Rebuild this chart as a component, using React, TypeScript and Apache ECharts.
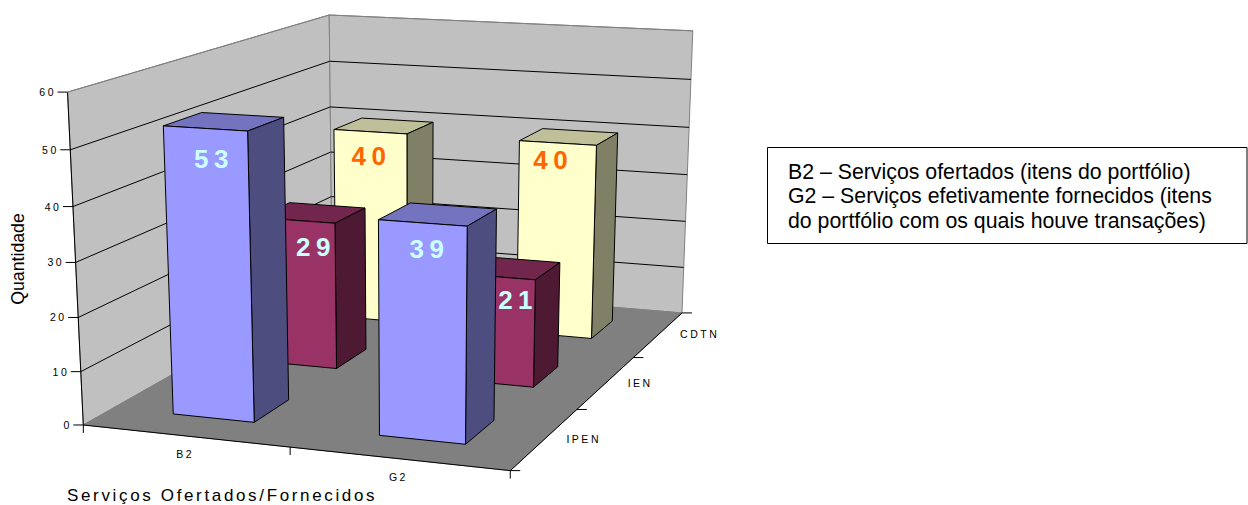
import React, { useEffect, useRef } from "react";
import * as echarts from "echarts";

// Categories along the front edge, series along the depth axis (front to back).
const groups = ["B2", "G2"];
const depthNames = ["IPEN", "IEN", "CDTN"];
const ipenValues = [53, 39];
const ienValues = [29, 21];
const cdtnValues = [40, 40];
const valueTicks = [0, 10, 20, 30, 40, 50, 60];
const axisTitleX = "Serviços Ofertados/Fornecidos";
const axisTitleY = "Quantidade";
const noteLines = [
  "B2 – Serviços ofertados (itens do portfólio)",
  "G2 – Serviços efetivamente fornecidos (itens",
  "do portfólio com os quais houve transações)",
];

const FONT = '"Liberation Sans", Arial, sans-serif';

type Pt = [number, number];

// Plain Gaussian elimination for the camera fit below.
function solve(a: number[][], b: number[]): number[] {
  const n = b.length;
  const m = a.map((r, i) => [...r, b[i]]);
  for (let i = 0; i < n; i++) {
    let p = i;
    for (let k = i + 1; k < n; k++) if (Math.abs(m[k][i]) > Math.abs(m[p][i])) p = k;
    [m[i], m[p]] = [m[p], m[i]];
    for (let k = i + 1; k < n; k++) {
      const f = m[k][i] / m[i][i];
      for (let j = i; j <= n; j++) m[k][j] -= f * m[i][j];
    }
  }
  const x = new Array(n).fill(0);
  for (let i = n - 1; i >= 0; i--) {
    let s = m[i][n];
    for (let j = i + 1; j < n; j++) s -= m[i][j] * x[j];
    x[i] = s / m[i][i];
  }
  return x;
}

// Camera anchors: box position (u along groups, w along depth, t up) -> screen point, with a weight.
const anchors: [number, number, number, number, number, number][] = [
  [0, 0, 0, 83, 425, 1],
  [1, 0, 0, 510, 470, 1],
  [1, 1, 0, 682, 313, 1],
  [0, 1, 0, 335, 283, 0.3],
  [0, 0, 1, 67.5, 92, 1],
  [0, 1, 1, 329, 15, 1],
  [1, 1, 1, 693, 31, 1],
  [1, 1 / 3, 0, 577, 410, 1],
  [1, 2 / 3, 0, 634, 358, 1],
  [0.5, 0, 0, 290, 447, 1],
  [0, 0, 0.5, 76, 262.7, 1],
  [1, 1, 5 / 6, 691, 79.3, 1],
  [1, 1, 1 / 6, 683, 267, 1],
];

// Least-squares fit of a 3x4 projection matrix with its last entry fixed to 1.
function buildCamera() {
  const rows: number[][] = [];
  const rhs: number[] = [];
  for (const [u, w, t, x, y, k] of anchors) {
    rows.push([u, w, t, 1, 0, 0, 0, 0, -x * u, -x * w, -x * t].map((v) => v * k));
    rhs.push(x * k);
    rows.push([0, 0, 0, 0, u, w, t, 1, -y * u, -y * w, -y * t].map((v) => v * k));
    rhs.push(y * k);
  }
  const idx = Array.from({ length: 11 }, (_, i) => i);
  const N = idx.map((i) => idx.map((j) => rows.reduce((s, r) => s + r[i] * r[j], 0)));
  const R = idx.map((i) => rows.reduce((s, r, n) => s + r[i] * rhs[n], 0));
  const m = solve(N, R);
  return (u: number, w: number, t: number): Pt => {
    const d = m[8] * u + m[9] * w + m[10] * t + 1;
    return [
      (m[0] * u + m[1] * w + m[2] * t + m[3]) / d,
      (m[4] * u + m[5] * w + m[6] * t + m[7]) / d,
    ];
  };
}
const project = buildCamera();

// Reads a value through the hidden cartesian axes: band centre and height, both 0..1.
function toUnit(api: any, params: any, cat: number, value: number) {
  const rect = params.coordSys;
  const c = api.coord([cat, value]);
  return { u: (c[0] - rect.x) / rect.width, t: (rect.y + rect.height - c[1]) / rect.height };
}

const wallFill = "#C0C0C0";
const floorFill = "#808080";
const edge = "#000000";
const wallEdge = "#808080";
const TICK_FONT = 10.5;

const poly = (points: Pt[], fill: string, stroke: string, lineWidth = 1) => ({
  type: "polygon",
  shape: { points },
  style: { fill, stroke, lineWidth, lineJoin: "round" },
});
const seg = (a: Pt, b: Pt, stroke: string, lineWidth = 1) => ({
  type: "line",
  shape: { x1: a[0], y1: a[1], x2: b[0], y2: b[1] },
  style: { stroke, lineWidth },
});
const label = (text: string, x: number, y: number, align: string) => ({
  type: "text",
  style: { text, x, y, align, verticalAlign: "middle", fontSize: TICK_FONT, fontFamily: FONT, fill: "#000000" },
});

// Walls, floor, box edges, category ticks and category labels.
function renderBox() {
  const bands = groups.length;
  const depthBands = depthNames.length;
  const xTicks = Array.from({ length: bands + 1 }, (_, i) => project(i / bands, 0, 0));
  const zTicks = Array.from({ length: depthBands + 1 }, (_, i) => project(1, i / depthBands, 0));
  return {
    type: "group",
    children: [
      poly([project(0, 0, 0), project(0, 1, 0), project(0, 1, 1), project(0, 0, 1)], wallFill, wallEdge),
      poly([project(0, 1, 0), project(1, 1, 0), project(1, 1, 1), project(0, 1, 1)], wallFill, wallEdge),
      poly([project(0, 0, 0), project(1, 0, 0), project(1, 1, 0), project(0, 1, 0)], floorFill, floorFill),
      seg(project(0, 0, 0), project(0, 0, 1), edge),
      seg(project(0, 0, 0), project(1, 0, 0), edge),
      seg(project(1, 0, 0), project(1, 1, 0), edge),
      ...xTicks.map((p) => seg(p, [p[0], p[1] + 8], edge)),
      ...zTicks.map((p) => seg(p, [p[0] + 10, p[1]], edge)),
      ...groups.map((g, i) => {
        const p = project((i + 0.5) / bands, 0, 0);
        return label(g, p[0], p[1] + 18, "center");
      }),
      ...depthNames.map((d, i) => {
        const p = project(1, (i + 0.5) / depthBands, 0);
        return label(d, p[0] + 21.5, p[1], "left");
      }),
    ],
  };
}

// One gridline, tick and tick label per value-axis tick.
function renderGrid(params: any, api: any) {
  const { t } = toUnit(api, params, 0, api.value(1));
  const a = project(0, 0, t);
  const b = project(0, 1, t);
  const c = project(1, 1, t);
  const value = valueTicks[params.dataIndex];
  const children: any[] = [seg([a[0] - 10, a[1]], a, edge)];
  if (value > 0) {
    const stroke = value === 60 ? wallEdge : edge;
    children.push(seg(a, b, stroke), seg(b, c, stroke));
  }
  children.push(label(String(value), a[0] - 11.5, a[1], "right"));
  return { type: "group", children };
}

const barWidth = 0.2;
const barDepth = 0.133;

const bandCentre = (depthIndex: number) => (depthIndex + 0.5) / depthNames.length;

// A box-shaped column: top, right side, then front face.
function barRenderer(depthIndex: number, front: string, top: string, side: string) {
  return (params: any, api: any) => {
    const { u, t } = toUnit(api, params, api.value(0), api.value(1));
    const u0 = u - barWidth / 2;
    const u1 = u + barWidth / 2;
    const w0 = bandCentre(depthIndex) - barDepth / 2;
    const w1 = bandCentre(depthIndex) + barDepth / 2;
    return {
      type: "group",
      children: [
        poly([project(u0, w0, t), project(u1, w0, t), project(u1, w1, t), project(u0, w1, t)], top, edge),
        poly([project(u1, w0, 0), project(u1, w1, 0), project(u1, w1, t), project(u1, w0, t)], side, edge),
        poly([project(u0, w0, 0), project(u1, w0, 0), project(u1, w0, t), project(u0, w0, t)], front, edge),
      ],
    };
  };
}

const barSeries = (values: number[], depth: number, colors: string[]) => ({
  type: "custom",
  name: depthNames[depth],
  silent: true,
  renderItem: barRenderer(depth, colors[0], colors[1], colors[2]),
  data: values.map((v, i) => [i, v]),
});

// Value captions sit above every column, each nudged by hand the way they were placed on the faces.
const captionNudge: Pt[][] = [
  [[8, 1], [7, -4]],
  [[19.5, 0], [24, -3]],
  [[1, -1], [-4, -9]],
];

const captionSeries = (values: number[], depth: number, fill: string) => ({
  type: "custom",
  silent: true,
  renderItem: (params: any, api: any) => {
    const value = api.value(1);
    const { u, t } = toUnit(api, params, api.value(0), value - 5.2);
    const p = project(u, bandCentre(depth) - barDepth / 2, t);
    const nudge = captionNudge[depth][params.dataIndex];
    return {
      type: "text",
      style: {
        text: String(value),
        x: p[0] + nudge[0],
        y: p[1] + nudge[1],
        align: "center",
        verticalAlign: "middle",
        fontSize: 26,
        fontWeight: "bold",
        fontFamily: FONT,
        fill,
      },
    };
  },
  data: values.map((v, i) => [i, v]),
});

export default function App() {
  const ref = useRef<HTMLDivElement>(null);
  useEffect(() => {
    const chart = echarts.init(ref.current!, undefined, { renderer: "svg" });
    chart.setOption({
      animation: false,
      backgroundColor: "#ffffff",
      // The axes only supply the scales; the perspective box shows them.
      grid: { left: 0, top: 0, width: 100, height: 100 },
      xAxis: { type: "category", data: groups, show: false },
      yAxis: { type: "value", min: 0, max: 60, interval: 10, show: false },
      graphic: [
        {
          type: "text",
          x: 17.5,
          y: 259,
          rotation: Math.PI / 2,
          style: { text: axisTitleY, align: "center", verticalAlign: "middle", fontSize: 17.7, fontFamily: FONT, fill: "#000" },
        },
        {
          type: "text",
          x: 67,
          y: 495,
          style: { text: axisTitleX, align: "left", verticalAlign: "middle", fontSize: 17, fontFamily: FONT, fill: "#000" },
        },
        {
          type: "rect",
          shape: { x: 767.5, y: 147.5, width: 479.5, height: 96 },
          style: { fill: "#fff", stroke: "#000", lineWidth: 1 },
        },
        ...noteLines.map((line, i) => ({
          type: "text",
          x: 788,
          y: 172 + i * 24.3,
          style: { text: line, align: "left", verticalAlign: "middle", fontSize: 21.3, fontFamily: FONT, fill: "#000" },
        })),
      ],
      series: [
        { type: "custom", silent: true, renderItem: renderBox, data: [[0, 0]] },
        { type: "custom", silent: true, renderItem: renderGrid, data: valueTicks.map((v) => [0, v]) },
        barSeries(cdtnValues, 2, ["#FFFFCC", "#BFBF99", "#808066"]),
        barSeries(ienValues, 1, ["#993366", "#73264D", "#4D1933"]),
        barSeries(ipenValues, 0, ["#9999FF", "#7373BF", "#4D4D80"]),
        captionSeries(cdtnValues, 2, "#FF6600"),
        captionSeries(ienValues, 1, "#CCFFFF"),
        captionSeries(ipenValues, 0, "#CCFFFF"),
      ],
    });
    return () => chart.dispose();
  }, []);
  return (
    <>
      <style>{`
        body { margin: 0; }
        #plot text[style*="10.5px"] { letter-spacing: 2.5px; }
        #plot text[style*="17px"] { letter-spacing: 2.65px; }
        #plot text[style*="26px"] { letter-spacing: 5.5px; }
      `}</style>
      <div id="plot" ref={ref} style={{ width: 1248, height: 505 }} />
    </>
  );
}
